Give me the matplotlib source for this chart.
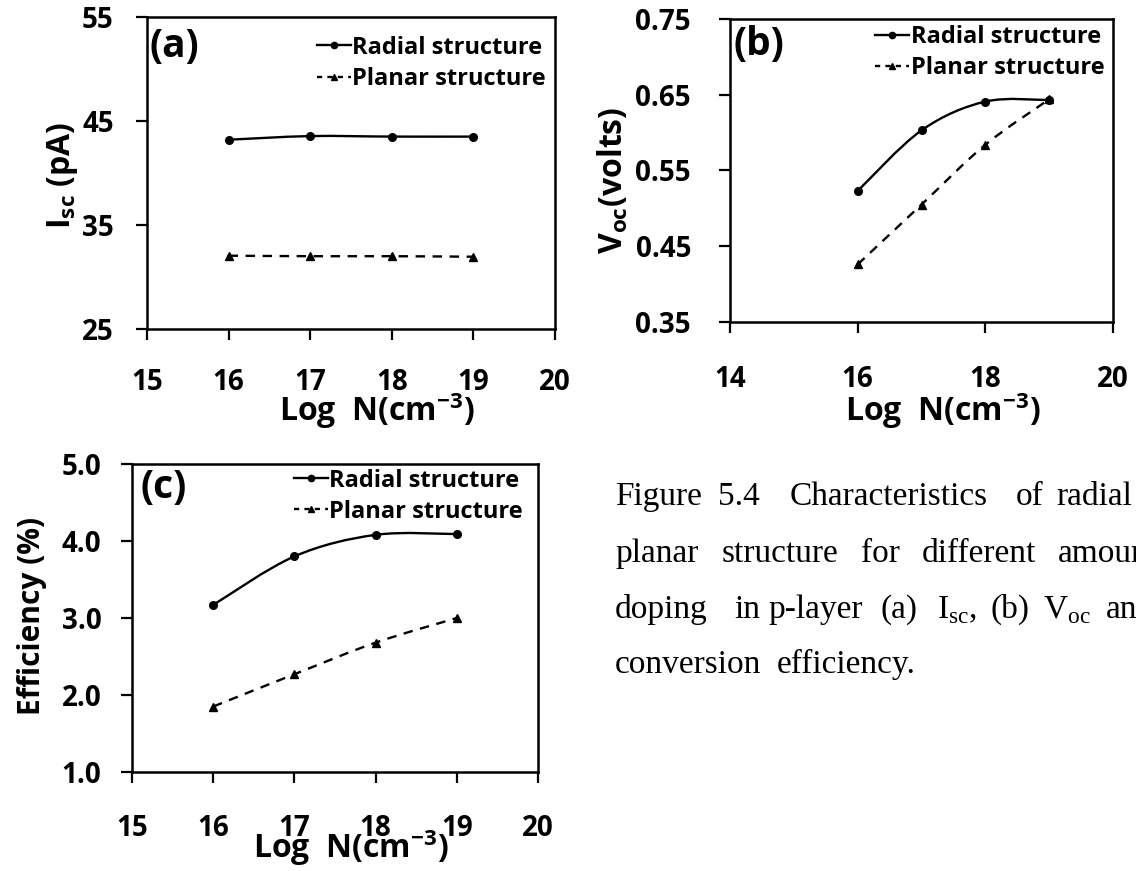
import matplotlib
matplotlib.use("Agg")
import matplotlib.pyplot as plt
from matplotlib.path import Path
from matplotlib.patches import PathPatch
from matplotlib.lines import Line2D
import numpy as np

# ---------------- data ----------------
log_n = [16, 17, 18, 19]

isc_radial = [43.2, 43.55, 43.5, 43.5]
isc_planar = [32.05, 32.0, 32.0, 31.95]

voc_radial = [0.523, 0.603, 0.641, 0.643]
voc_planar = [0.426, 0.505, 0.584, 0.644]

eff_radial = [3.17, 3.80, 4.08, 4.09]
eff_planar = [1.85, 2.27, 2.68, 3.00]

series_labels = ["Radial structure", "Planar structure"]

a_xticks = [15, 16, 17, 18, 19, 20]
a_yticks = [25, 35, 45, 55]
b_xticks = [14, 16, 18, 20]
b_yticks = [0.35, 0.45, 0.55, 0.65, 0.75]
c_xticks = [15, 16, 17, 18, 19, 20]
c_yticks = [1.0, 2.0, 3.0, 4.0, 5.0]

caption_lines = [
    ["Figure", "5.4", "Characteristics", "of", "radial"],
    ["planar", "structure", "for", "different", "amount"],
    ["doping", "in", "p-layer", "(a)", r"I$_\mathregular{sc}$,", "(b)", r"V$_\mathregular{oc}$", "and"],
    ["conversion", "efficiency."],
]

# ---------------- style ----------------
FONT = "Open Sans"
W, H = 1136, 871
fig = plt.figure(figsize=(W / 100, H / 100), dpi=100)
fig.patch.set_facecolor("white")


def axes_px(left, right, top, bottom):
    return fig.add_axes([left / W, 1 - bottom / H, (right - left) / W, (bottom - top) / H])


def smooth_path(x, y):
    pts = np.column_stack([x, y]).astype(float)
    n = len(pts)
    verts = [pts[0]]
    codes = [Path.MOVETO]
    for i in range(n - 1):
        p0 = pts[i - 1] if i > 0 else pts[i]
        p1 = pts[i]
        p2 = pts[i + 1]
        p3 = pts[i + 2] if i + 2 < n else pts[i + 1]
        c1 = p1 + (p2 - p0) / 6.0
        c2 = p2 - (p3 - p1) / 6.0
        verts += [c1, c2, p2]
        codes += [Path.CURVE4] * 3
    return Path(verts, codes)


def draw_series(ax, x, y, ls, marker):
    patch = PathPatch(smooth_path(x, y), facecolor="none", edgecolor="black",
                      lw=1.7, transform=ax.transData)
    if ls == "--":
        patch.set_linestyle((0, (4.0, 3.2)))
    ax.add_patch(patch)
    ax.plot(x, y, linestyle="none", marker=marker, ms=5.5, color="black")


def style_axes(ax, xlim, ylim, xticks, yticks, yfmt, xpad, ypad):
    ax.set_xlim(*xlim)
    ax.set_ylim(*ylim)
    ax.set_xticks(xticks)
    ax.set_yticks(yticks)
    ax.set_yticklabels([yfmt.format(v) for v in yticks])
    for sp in ax.spines.values():
        sp.set_linewidth(1.8)
        sp.set_color("black")
    ax.tick_params(axis="both", direction="out", length=8, width=1.6,
                   labelsize=20, colors="black")
    ax.tick_params(axis="x", pad=xpad)
    ax.tick_params(axis="y", pad=ypad)
    for lab in ax.get_xticklabels() + ax.get_yticklabels():
        lab.set_fontfamily(FONT)
        lab.set_fontweight("bold")


def add_legend(ax, bbox):
    handles = [
        Line2D([], [], color="black", lw=1.7, marker="o", ms=4.5),
        Line2D([], [], color="black", lw=1.7, linestyle=(0, (2.2, 2.2)), marker="^", ms=4.5),
    ]
    leg = ax.legend(handles, series_labels, loc="upper right", bbox_to_anchor=bbox,
                    frameon=False, prop={"family": FONT, "weight": "bold", "size": 17},
                    handlelength=1.45, handletextpad=0.05, labelspacing=0.3,
                    borderaxespad=0.0, borderpad=0.0, numpoints=1)
    return leg


xlab = r"Log  N(cm$^\mathregular{-3}$)"
lab_kw = dict(fontfamily=FONT, fontweight="bold", fontsize=23)
panel_kw = dict(fontfamily=FONT, fontweight="bold", fontsize=28, va="top", ha="left")

# ---- (a) ----
axa = axes_px(147, 555, 17, 329)
draw_series(axa, log_n, isc_radial, "-", "o")
draw_series(axa, log_n, isc_planar, "--", "^")
style_axes(axa, (15, 20), (25, 55), a_xticks, a_yticks, "{:.0f}", 20, 16)
axa.set_xlabel(xlab, **lab_kw)
axa.xaxis.set_label_coords(0.564, -0.195)
axa.set_ylabel(r"I$_\mathregular{sc}$ (pA)", **lab_kw)
axa.yaxis.set_label_coords(-0.164, 0.494)
axa.text(0.007, 0.968, "(a)", transform=axa.transAxes, **panel_kw)
add_legend(axa, (0.978, 0.94))

# ---- (b) ----
axb = axes_px(730, 1113, 19, 322)
draw_series(axb, log_n, voc_radial, "-", "o")
draw_series(axb, log_n, voc_planar, "--", "^")
style_axes(axb, (14, 20), (0.35, 0.75), b_xticks, b_yticks, "{:.2f}", 23, 20)
axb.set_xlabel(xlab, **lab_kw)
axb.xaxis.set_label_coords(0.556, -0.224)
axb.set_ylabel(r"V$_\mathregular{oc}$(volts)", **lab_kw)
axb.yaxis.set_label_coords(-0.26, 0.469)
axb.text(0.008, 0.98, "(b)", transform=axb.transAxes, **panel_kw)
add_legend(axb, (0.977, 0.98))

# ---- (c) ----
axc = axes_px(132, 538, 464, 772)
draw_series(axc, log_n, eff_radial, "-", "o")
draw_series(axc, log_n, eff_planar, "--", "^")
style_axes(axc, (15, 20), (1.0, 5.0), c_xticks, c_yticks, "{:.1f}", 22, 14)
axc.set_xlabel(xlab, **lab_kw)
axc.xaxis.set_label_coords(0.54, -0.18)
axc.set_ylabel("Efficiency (%)", fontfamily=FONT, fontweight="bold", fontsize=21.5)
axc.yaxis.set_label_coords(-0.21, 0.507)
axc.text(0.02, 0.987, "(c)", transform=axc.transAxes, **panel_kw)
add_legend(axc, (0.963, 0.985))

# ---- caption (justified word positions) ----
word_x = [
    [615, 718, 790, 1016, 1056],
    [615, 722, 861, 922, 1058],
    [615, 734, 768, 880, 937, 990, 1043, 1106],
    [615, 777],
]
baselines = [505, 562, 618, 673]
for words, xs, yb in zip(caption_lines, word_x, baselines):
    for w, xp in zip(words, xs):
        fig.text(xp / W, 1 - yb / H, w, fontfamily="Liberation Serif", fontsize=24,
                 ha="left", va="baseline")

fig.savefig("out.png", dpi=100)
